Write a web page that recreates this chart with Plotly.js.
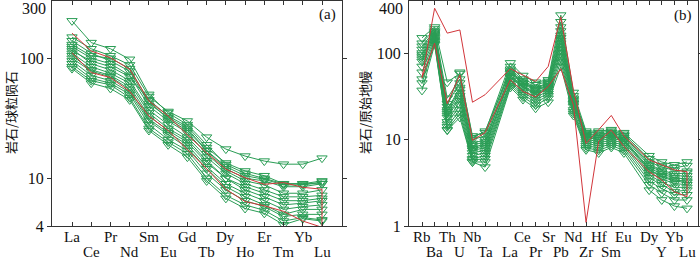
<!DOCTYPE html>
<html><head><meta charset="utf-8">
<script src="https://cdn.plot.ly/plotly-3.0.1.min.js"></script>
<style>html,body{margin:0;padding:0;background:#fff}</style>
</head><body>
<div id="chart" style="width:700px;height:261px"></div>
<script>
// ---------- Panel (a): chondrite-normalised REE ----------
const reeLabels = ['La','Ce','Pr','Nd','Sm','Eu','Gd','Tb','Dy','Ho','Er','Tm','Yb','Lu'];
const a01 = [150,120,105,88,48,36,30,22,17.5,15.3,13.9,13.1,13.1,14.7];
const a02 = [205,135,120,98,50,35,28,19,13,11,10,9,9,9.5];
const a03 = [140,110,95,78,42,32,26,17,12,10,9.5,8.5,8.5,9];
const a04 = [125,100,90,72,40,30,24,16,11.5,9.5,8.8,7.5,7.5,8];
const a05 = [120,90,80,65,37,28,22,15,11,9,8,7,7,7.2];
const a06 = [110,85,75,62,35,26,21,14,10,8.5,7.5,6.5,6.5,6.8];
const a07 = [105,80,72,58,33,25,20,13.5,10,8,7,6,6.2,6.5];
const a08 = [100,78,70,55,31,24,19,12.5,9,7.5,6.5,5.5,5.8,6];
const a09 = [95,72,65,52,30,23,18,12,8.5,7,6,5,5.5,5.5];
const a10 = [90,68,62,50,28,21,17,11,8,6.5,5.8,4.8,5,5];
const a11 = [85,65,60,47,26,20,16,10,7.2,6,5.4,4.4,4.7,4.5];
const a12 = [82,62,56,45,25,19,15,9.5,6.8,5.6,5.1,4.1,4.6,4.4];
const a13 = [115,95,85,70,45,33,27,18,13.4,11.5,10.5,9,9,9];
const a14 = [130,105,100,82,44,31,25,17,12.5,10.5,9.8,8.8,8.8,9.3];
const redUpperA = [162,115,101,81,44,33,23,16.3,11.9,10.1,8.9,9.2,8.4,8.1];
const redLowerA = [111,76,69,53,33,25,17.5,12,8.1,6.4,5.9,5.3,4.4,3.9];
const yTicksA = [4,10,100];

// ---------- Panel (b): primitive-mantle-normalised spidergram ----------
const spiderLabels = ['Rb','Ba','Th','U','Nb','Ta','','La','Ce','Pr','Sr','Pb','Nd','Zr','Hf','Sm','Eu','','Dy','Y','Yb','Lu'];
const spiderBottomRow = ['Ba','U','Ta','La','Pr','Pb','Zr','Sm','Y','Lu'];
const b01 = [150,200,46,58,11,12,null,77,55,46,49,275,35,12.5,12.5,13,12,null,6.5,5.5,5.1,5.5];
const b02 = [120,180,26,45,9,10,null,65,48,40,45,200,30,11.5,11,12,11,null,5.5,4.8,4.4,4.3];
const b03 = [100,170,22,40,8,9,null,60,45,38,42,160,28,11,10.5,11.5,10.5,null,5.0,4.2,3.8,3.8];
const b04 = [90,160,20,35,7.5,8,null,55,42,35,40,140,26,10.5,10,11,10,null,4.5,3.8,3.4,3.3];
const b05 = [80,150,18,30,7,7.5,null,52,40,33,38,120,25,10,9.5,10.5,9.5,null,4.2,3.5,3.1,3.0];
const b06 = [70,145,16,28,6.5,7,null,48,37,31,36,110,24,9.5,9,10,9,null,3.9,3.2,2.8,2.8];
const b07 = [60,140,15,25,6,6.5,null,46,35,29,34,100,22,9,8.5,9.5,8.5,null,3.6,3.0,2.5,2.6];
const b08 = [50,135,14,22,5.8,6,null,44,33,27,32,90,21,8.5,8,9,8,null,3.3,2.7,2.3,2.3];
const b09 = [45,130,13,20,5.5,5.5,null,42,31,25,30,80,20,8,7.5,8.5,7.5,null,3.0,2.4,2.0,2.0];
const b10 = [37,125,12.8,18,5.5,4.8,null,40,29,23,27,70,19,7.6,7,8.1,7,null,2.6,2.0,1.7,1.6];
const b11 = [130,190,30,50,10,11,null,70,50,43,47,230,32,12,12,12.5,11.5,null,6.0,5.0,4.7,5.0];
const b12 = [110,175,24,60,10.5,12.5,null,62,46,39,44,180,29,11.5,11.5,12,11,null,5.2,4.4,4.0,4.1];
const b13 = [95,165,21,38,8.5,9.5,null,58,44,37,41,150,27,11,10.5,11.5,10,null,4.7,4.0,3.6,3.5];
const b14 = [85,155,19,32,7.8,8.5,null,53,41,34,39,130,26,10.8,10,11,9.8,null,4.4,3.7,3.3,3.2];
const redUpperB = [52,330,170,185,27,33,null,66,56,47,70,263,37,9.0,13,19,11,null,5.8,5.1,4.45,4.24];
const redLowerB = [52,130,26,56,9.8,12,null,49,36,31,41,66,25,1.1,9.5,12.8,8.3,null,4.24,3.4,2.49,2.18];
const yTicksB = [1,10,100];

// ---------- styles ----------
const GREEN = '#2a9d55';
const RED = '#d2353a';
const serif = 'Liberation Serif, Times New Roman, serif';
const cjk = 'Noto Sans CJK SC, sans-serif';

function greenTrace(vals, xs, xa, ya) {
  return {x: xs, y: vals, xaxis: xa, yaxis: ya, type: 'scatter', mode: 'lines+markers',
    connectgaps: true, hoverinfo: 'skip',
    line: {color: GREEN, width: 1},
    marker: {symbol: 'triangle-down-open', size: 9, color: GREEN, line: {width: 1, color: GREEN}}};
}
function redPoly(upper, lower, xs, xa, ya) {
  const px = [], py = [];
  xs.forEach((x, i) => { if (upper[i] != null) { px.push(x); py.push(upper[i]); } });
  for (let i = xs.length - 1; i >= 0; i--) { if (lower[i] != null) { px.push(xs[i]); py.push(lower[i]); } }
  return {x: px, y: py, xaxis: xa, yaxis: ya, type: 'scatter', mode: 'lines', hoverinfo: 'skip',
    line: {color: RED, width: 1}};
}

const xA = reeLabels.map((_, i) => i);
const xB = spiderLabels.map((_, i) => i);
const seriesA = [a01,a02,a03,a04,a05,a06,a07,a08,a09,a10,a11,a12,a13,a14];
const seriesB = [b01,b02,b03,b04,b05,b06,b07,b08,b09,b10,b11,b12,b13,b14];

const traces = [];
seriesA.forEach(s => traces.push(greenTrace(s, xA, 'x', 'y')));
traces.push(redPoly(redUpperA, redLowerA, xA, 'x', 'y'));
seriesB.forEach(s => traces.push(greenTrace(s, xB, 'x2', 'y2')));
traces.push(redPoly(redUpperB, redLowerB, xB, 'x2', 'y2'));

const H = 261;
const ROW1 = 1 - 237 / H, ROW2 = 1 - 252 / H;
const tickFont = {family: serif, size: 15, color: '#111'};

// staggered category labels placed on the axes' own x scale
const labelAnns = [];
reeLabels.forEach((t, i) => labelAnns.push({text: t, xref: 'x', yref: 'paper', x: i, y: i % 2 === 0 ? ROW1 : ROW2,
  xanchor: 'center', yanchor: 'middle', showarrow: false, borderpad: 0, font: tickFont}));
spiderLabels.forEach((t, i) => { if (t !== '') labelAnns.push({text: t, xref: 'x2', yref: 'paper', x: i,
  y: spiderBottomRow.includes(t) ? ROW2 : ROW1, xanchor: 'center', yanchor: 'middle', showarrow: false,
  borderpad: 0, font: tickFont}); });

const yDom = [1 - 226 / H, 1 - 1 / H];
const axisCommon = {showline: true, mirror: 'ticks', linecolor: '#333', linewidth: 1, showgrid: false, zeroline: false};

const layout = {
  width: 700, height: 261, margin: {l: 0, r: 0, t: 0, b: 0},
  paper_bgcolor: '#fff', plot_bgcolor: '#fff', showlegend: false,
  xaxis: Object.assign({}, axisCommon, {
    domain: [52 / 700, 342 / 700], range: [-1.04, 14.04], anchor: 'y',
    tickmode: 'array', tickvals: xA, showticklabels: false,
    ticks: 'inside', ticklen: 4, tickcolor: '#333'}),
  yaxis: Object.assign({}, axisCommon, {
    domain: yDom, type: 'log', range: [Math.log10(4), Math.log10(300)], anchor: 'x',
    tickmode: 'array', tickvals: yTicksA, ticktext: yTicksA.map(String),
    ticks: 'outside', ticklen: 4, tickcolor: '#333',
    tickfont: {family: serif, size: 16, color: '#111'}}),
  xaxis2: Object.assign({}, axisCommon, {
    domain: [409 / 700, 698 / 700], range: [-1.03, 21.87], anchor: 'y2',
    tickmode: 'array', tickvals: xB, showticklabels: false,
    ticks: 'inside', ticklen: 4, tickcolor: '#333'}),
  yaxis2: Object.assign({}, axisCommon, {
    domain: yDom, type: 'log', range: [0, Math.log10(400)], anchor: 'x2',
    tickmode: 'array', tickvals: yTicksB, ticktext: yTicksB.map(String),
    ticks: 'outside', ticklen: 4, tickcolor: '#333',
    tickfont: {family: serif, size: 16, color: '#111'}}),
  annotations: labelAnns.concat([
    {text: '300', xref: 'paper', yref: 'paper', x: 47 / 700, y: 1 - 9 / H, xanchor: 'right', yanchor: 'middle',
      showarrow: false, borderpad: 0, font: {family: serif, size: 16, color: '#111'}},
    {text: '400', xref: 'paper', yref: 'paper', x: 404 / 700, y: 1 - 9 / H, xanchor: 'right', yanchor: 'middle',
      showarrow: false, borderpad: 0, font: {family: serif, size: 16, color: '#111'}},
    {text: '(a)', xref: 'paper', yref: 'paper', x: 338 / 700, y: 1 - 14 / H, xanchor: 'right', yanchor: 'middle',
      showarrow: false, font: {family: serif, size: 15, color: '#111'}},
    {text: '(b)', xref: 'paper', yref: 'paper', x: 694 / 700, y: 1 - 15 / H, xanchor: 'right', yanchor: 'middle',
      showarrow: false, font: {family: serif, size: 15, color: '#111'}},
    {text: '岩石/球粒陨石', xref: 'paper', yref: 'paper', x: 10 / 700, y: 1 - 113 / H, xanchor: 'center', yanchor: 'middle',
      textangle: -90, showarrow: false, font: {family: cjk, size: 13, color: '#111'}},
    {text: '岩石/原始地幔', xref: 'paper', yref: 'paper', x: 364 / 700, y: 1 - 113 / H, xanchor: 'center', yanchor: 'middle',
      textangle: -90, showarrow: false, font: {family: cjk, size: 13, color: '#111'}}
  ])
};

Plotly.newPlot('chart', traces, layout, {staticPlot: true, displayModeBar: false});
</script>
</body></html>
